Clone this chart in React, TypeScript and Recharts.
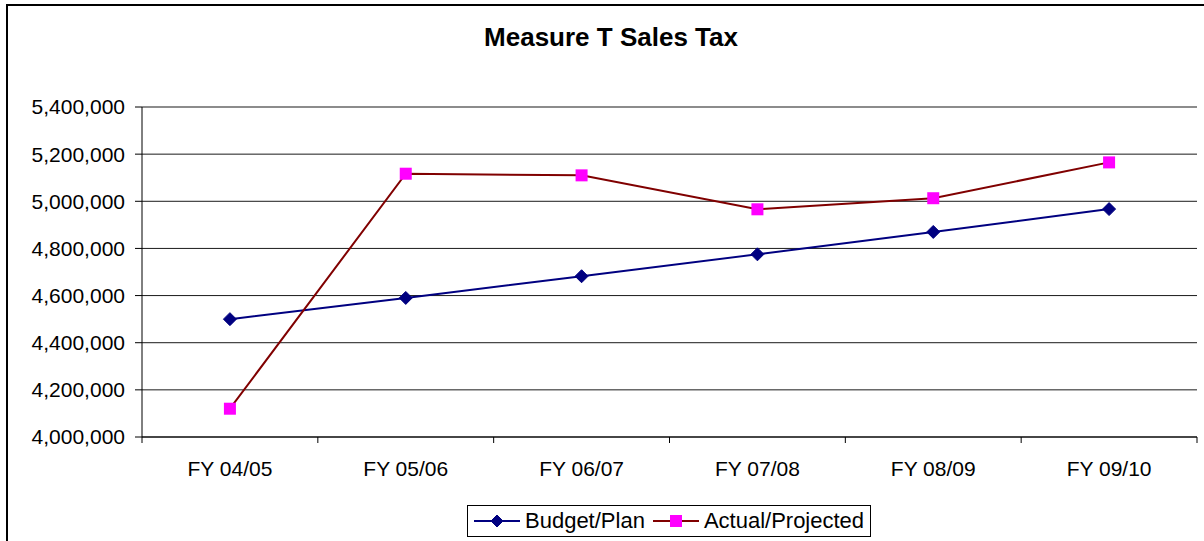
import { CartesianGrid, Line, LineChart, XAxis, YAxis } from 'recharts';

const categories = ['FY 04/05', 'FY 05/06', 'FY 06/07', 'FY 07/08', 'FY 08/09', 'FY 09/10'];
const budgetPlan = [4500000, 4590000, 4682000, 4775000, 4870000, 4967000];
const actualProjected = [4120000, 5117000, 5110000, 4966000, 5013000, 5165000];
const yTicks = [4000000, 4200000, 4400000, 4600000, 4800000, 5000000, 5200000, 5400000];

const data = categories.map((name, i) => ({
  name,
  budget: budgetPlan[i],
  actual: actualProjected[i],
}));

const FONT = 'Arial, "Liberation Sans", sans-serif';
const NAVY = '#000080';
const MAROON = '#800000';
const MAGENTA = '#FF00FF';

function Diamond({ cx, cy, half = 6.5 }: any) {
  if (cx == null || cy == null) return null;
  return (
    <polygon
      points={`${cx},${cy - half} ${cx + half},${cy} ${cx},${cy + half} ${cx - half},${cy}`}
      fill={NAVY}
      stroke={NAVY}
    />
  );
}

function Square({ cx, cy, side = 12 }: any) {
  if (cx == null || cy == null) return null;
  return <rect x={cx - side / 2} y={cy - side / 2} width={side} height={side} fill={MAGENTA} />;
}

// excel style: ticks sit between categories, labels at the centers
function CategoryTick(props: any) {
  const { x, y, payload, index, visibleTicksCount, width } = props;
  const half = payload?.offset || width / (2 * visibleTicksCount);
  const last = index === visibleTicksCount - 1;
  return (
    <g>
      <line x1={x - half} y1={y} x2={x - half} y2={y + 6} stroke="#000" />
      {last && <line x1={x + half} y1={y} x2={x + half} y2={y + 6} stroke="#000" />}
      <text x={x} y={y + 39} textAnchor="middle" fill="#000" fontSize={21} fontFamily={FONT}>
        {payload.value}
      </text>
    </g>
  );
}

function LegendIcon({ kind }: { kind: 'diamond' | 'square' }) {
  return (
    <svg width={46} height={20} style={{ display: 'block' }}>
      <line x1={0} y1={10} x2={46} y2={10} stroke={kind === 'diamond' ? NAVY : MAROON} strokeWidth={2} />
      {kind === 'diamond' ? <Diamond cx={23} cy={10} half={6} /> : <Square cx={23} cy={10} side={12} />}
    </svg>
  );
}

export default function App() {
  return (
    <div
      style={{
        position: 'fixed',
        left: 0,
        top: 0,
        width: 1204,
        height: 541,
        overflow: 'hidden',
        background: '#fff',
        fontFamily: FONT,
      }}
    >
      <div
        style={{
          position: 'absolute',
          left: 6,
          top: 4,
          width: 1400,
          height: 800,
          borderLeft: '2px solid #000',
          borderTop: '2px solid #000',
        }}
      />
      <div
        style={{
          position: 'absolute',
          left: 0,
          top: 24,
          width: 1222,
          textAlign: 'center',
          fontSize: 26,
          lineHeight: '26px',
          fontWeight: 'bold',
          color: '#000',
        }}
      >
        Measure T Sales Tax
      </div>
      <div style={{ position: 'absolute', left: 0, top: 0 }}>
        <LineChart width={1204} height={541} data={data} margin={{ top: 107, right: 7, bottom: 0, left: 0 }}>
          <CartesianGrid vertical={false} stroke="#000" strokeOpacity={0.9} />
          <XAxis
            dataKey="name"
            scale="band"
            height={104}
            axisLine={{ stroke: '#000' }}
            tickLine={false}
            tickSize={0}
            tickMargin={0}
            tick={<CategoryTick />}
            interval={0}
          />
          <YAxis
            width={142}
            domain={[4000000, 5400000]}
            ticks={yTicks}
            interval={0}
            axisLine={{ stroke: '#000' }}
            tickLine={{ stroke: '#000' }}
            tickSize={7}
            tickMargin={10}
            tick={{ fill: '#000', fontSize: 21, fontFamily: FONT }}
            tickFormatter={(v: number) => v.toLocaleString('en-US')}
          />
          <Line
            dataKey="budget"
            stroke={NAVY}
            strokeWidth={2}
            dot={<Diamond />}
            activeDot={false}
            isAnimationActive={false}
          />
          <Line
            dataKey="actual"
            stroke={MAROON}
            strokeWidth={2}
            dot={<Square />}
            activeDot={false}
            isAnimationActive={false}
          />
        </LineChart>
      </div>
      <div
        style={{
          position: 'absolute',
          left: 467,
          top: 505,
          width: 404,
          height: 32,
          border: '1px solid #000',
          display: 'flex',
          alignItems: 'center',
          paddingLeft: 6,
          boxSizing: 'border-box',
          fontSize: 22,
          color: '#000',
          whiteSpace: 'nowrap',
        }}
      >
        <LegendIcon kind="diamond" />
        <span style={{ marginLeft: 5, marginRight: 8 }}>Budget/Plan</span>
        <LegendIcon kind="square" />
        <span style={{ marginLeft: 5 }}>Actual/Projected</span>
      </div>
    </div>
  );
}
